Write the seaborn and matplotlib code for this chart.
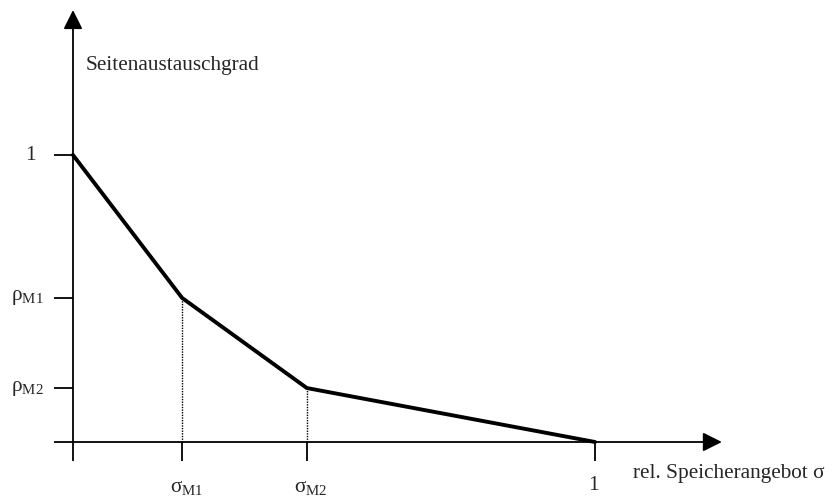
import matplotlib
matplotlib.use("Agg")
import matplotlib.pyplot as plt
import seaborn as sns

# knee points of the curve
sigma = [0.0, 0.209, 0.448, 1.0]
rho = [1.0, 0.502, 0.188, 0.0]
x_labels = ["", r"σ$_{\mathrm{M1}}$", r"σ$_{\mathrm{M2}}$", "1"]
y_ticks = [0.0, 1.0, 0.502, 0.188]
y_labels = ["", "1", r"ρ$_{\mathrm{M1}}$", r"ρ$_{\mathrm{M2}}$"]
x_title = "rel. Speicherangebot σ"
y_title = "Seitenaustauschgrad"

sns.set_style("white")
plt.rcParams["font.family"] = ["Liberation Serif", "DejaVu Serif"]
plt.rcParams["mathtext.fontset"] = "custom"
plt.rcParams["mathtext.rm"] = "Liberation Serif"
plt.rcParams["mathtext.it"] = "Liberation Serif:italic"
fs = 15.3

fig = plt.figure(figsize=(8.32, 4.99), dpi=100)
ax = fig.add_axes([0, 0, 1, 1])
ax.set_xlim(-73 / 522, 759 / 522)
ax.set_ylim(-57 / 287, 442 / 287)

# main curve
sns.lineplot(x=sigma, y=rho, color="black", linewidth=2.8, ax=ax)
# dotted helper lines
ax.vlines(sigma[1:3], 0, rho[1:3], colors="black", linestyles=(0, (1, 0.9)), linewidth=1.0)

# axes as arrows
arrow = dict(arrowstyle="-|>", mutation_scale=29, color="black", lw=1.3, shrinkA=0, shrinkB=0)
ax.annotate("", xy=(1.243, 0), xytext=(0, 0), arrowprops=arrow)
ax.annotate("", xy=(0, 1.505), xytext=(0, 0), arrowprops=arrow)

# ticks at the axis origin
for s in ["top", "right", "left", "bottom"]:
    ax.spines[s].set_visible(False)
ax.spines["left"].set_position(("data", 0))
ax.spines["bottom"].set_position(("data", 0))
ax.set_xticks(sigma)
ax.set_yticks(y_ticks)
ax.set_xticklabels([])
ax.set_yticklabels([])
ax.tick_params(direction="out", length=13.5, width=1.3, color="black",
               bottom=True, left=True)

# tick labels
for xv, lab in zip(sigma, x_labels):
    dy = -34.6 if lab == "1" else -36
    dx = -1 if lab == "1" else 3
    ax.annotate(lab, xy=(xv, 0), xytext=(dx, dy), textcoords="offset points",
                ha="center", va="baseline", fontsize=fs)
for yv, lab in zip(y_ticks, y_labels):
    dx = -26.6 if lab == "1" else -20.9
    ax.annotate(lab, xy=(0, yv), xytext=(dx, 0), textcoords="offset points",
                ha="right", va="center", fontsize=fs)

ax.annotate(x_title, xy=(1.0, 0), xytext=(27.4, -25.9), textcoords="offset points",
            ha="left", va="baseline", fontsize=fs)
ax.annotate(y_title, xy=(0, 1.0), xytext=(9.4, 61.2), textcoords="offset points",
            ha="left", va="baseline", fontsize=fs)

fig.savefig("out.png", dpi=100)
